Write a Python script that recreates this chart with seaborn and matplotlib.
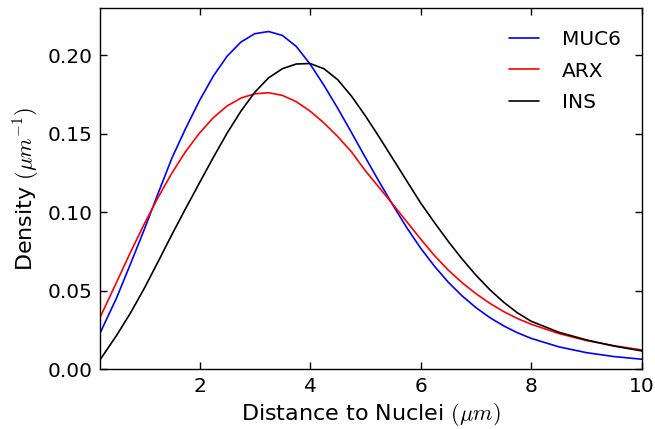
import numpy as np
import pandas as pd
import seaborn as sns
import matplotlib.pyplot as plt

# values
distance = [0.2, 0.5, 0.75, 1.0, 1.25, 1.5, 1.75, 2.0, 2.25, 2.5, 2.75, 3.0, 3.25,
            3.5, 3.75, 4.0, 4.25, 4.5, 4.75, 5.0, 5.25, 5.5, 5.75, 6.0, 6.25, 6.5,
            6.75, 7.0, 7.25, 7.5, 7.75, 8.0, 8.5, 9.0, 9.5, 10.0]
muc6 = [0.023, 0.0455, 0.067, 0.089, 0.112, 0.1345, 0.1535, 0.1712, 0.1868, 0.1995,
        0.2085, 0.2138, 0.2152, 0.2127, 0.2057, 0.1945, 0.181, 0.1663, 0.1508,
        0.135, 0.1195, 0.1045, 0.0902, 0.0772, 0.0657, 0.0555, 0.0468, 0.0393,
        0.033, 0.0277, 0.0233, 0.0197, 0.0143, 0.0106, 0.0081, 0.0064]
arx = [0.033, 0.0555, 0.0745, 0.0925, 0.1095, 0.125, 0.1388, 0.1505, 0.1603, 0.1678,
       0.1728, 0.1755, 0.1762, 0.1745, 0.1705, 0.1645, 0.157, 0.1483, 0.1385,
       0.1265, 0.1158, 0.105, 0.094, 0.083, 0.0725, 0.0632, 0.0552, 0.0482,
       0.0421, 0.0368, 0.0324, 0.0287, 0.0228, 0.0183, 0.015, 0.0123]
ins = [0.006, 0.0216, 0.0358, 0.0515, 0.0685, 0.0858, 0.1025, 0.1188, 0.135, 0.1505,
       0.1645, 0.1765, 0.1857, 0.1915, 0.1945, 0.1948, 0.1915, 0.1845, 0.174,
       0.1615, 0.148, 0.134, 0.120, 0.106, 0.0935, 0.0815, 0.0703, 0.060,
       0.0508, 0.0428, 0.036, 0.0306, 0.0236, 0.0187, 0.0148, 0.0117]
genes = ["MUC6", "ARX", "INS"]
colors = {"MUC6": "blue", "ARX": "red", "INS": "black"}

df = pd.DataFrame({
    "Distance": distance * 3,
    "Density": muc6 + arx + ins,
    "Gene": np.repeat(genes, len(distance)),
})

sns.set_style("ticks", {"xtick.direction": "in", "ytick.direction": "in",
                        "xtick.top": True, "ytick.right": True,
                        "axes.edgecolor": "black", "text.color": "black",
                        "axes.labelcolor": "black", "xtick.color": "black",
                        "ytick.color": "black"})
plt.rcParams["font.family"] = ["DejaVu Sans"]
plt.rcParams["mathtext.fontset"] = "cm"

fig = plt.figure(figsize=(6.55, 4.29), dpi=100)
ax = fig.add_axes([0.1527, 0.1392, 0.827, 0.8415])

sns.lineplot(data=df, x="Distance", y="Density", hue="Gene", hue_order=genes,
             palette=colors, linewidth=1.2, ax=ax)

ax.set_xlim(0.2, 10)
ax.set_ylim(0, 0.23)
ax.set_xticks([2, 4, 6, 8, 10])
ax.set_yticks([0.0, 0.05, 0.10, 0.15, 0.20])
ax.yaxis.set_major_formatter(plt.FormatStrFormatter("%.2f"))
ax.tick_params(labelsize=14.5, length=4.8, width=1, pad=5.5)
for s in ax.spines.values():
    s.set_linewidth(1.0)
ax.set_xlabel(r"Distance to Nuclei $(\mu m)$", fontsize=16)
ax.set_ylabel(r"Density $(\mu m^{-1})$", fontsize=16)

ax.legend(title=None, frameon=False, fontsize=14.5, loc="upper right",
          bbox_to_anchor=(0.995, 0.99), handlelength=1.5, handletextpad=1.15,
          labelspacing=0.62)

fig.savefig("out.png", dpi=100)
